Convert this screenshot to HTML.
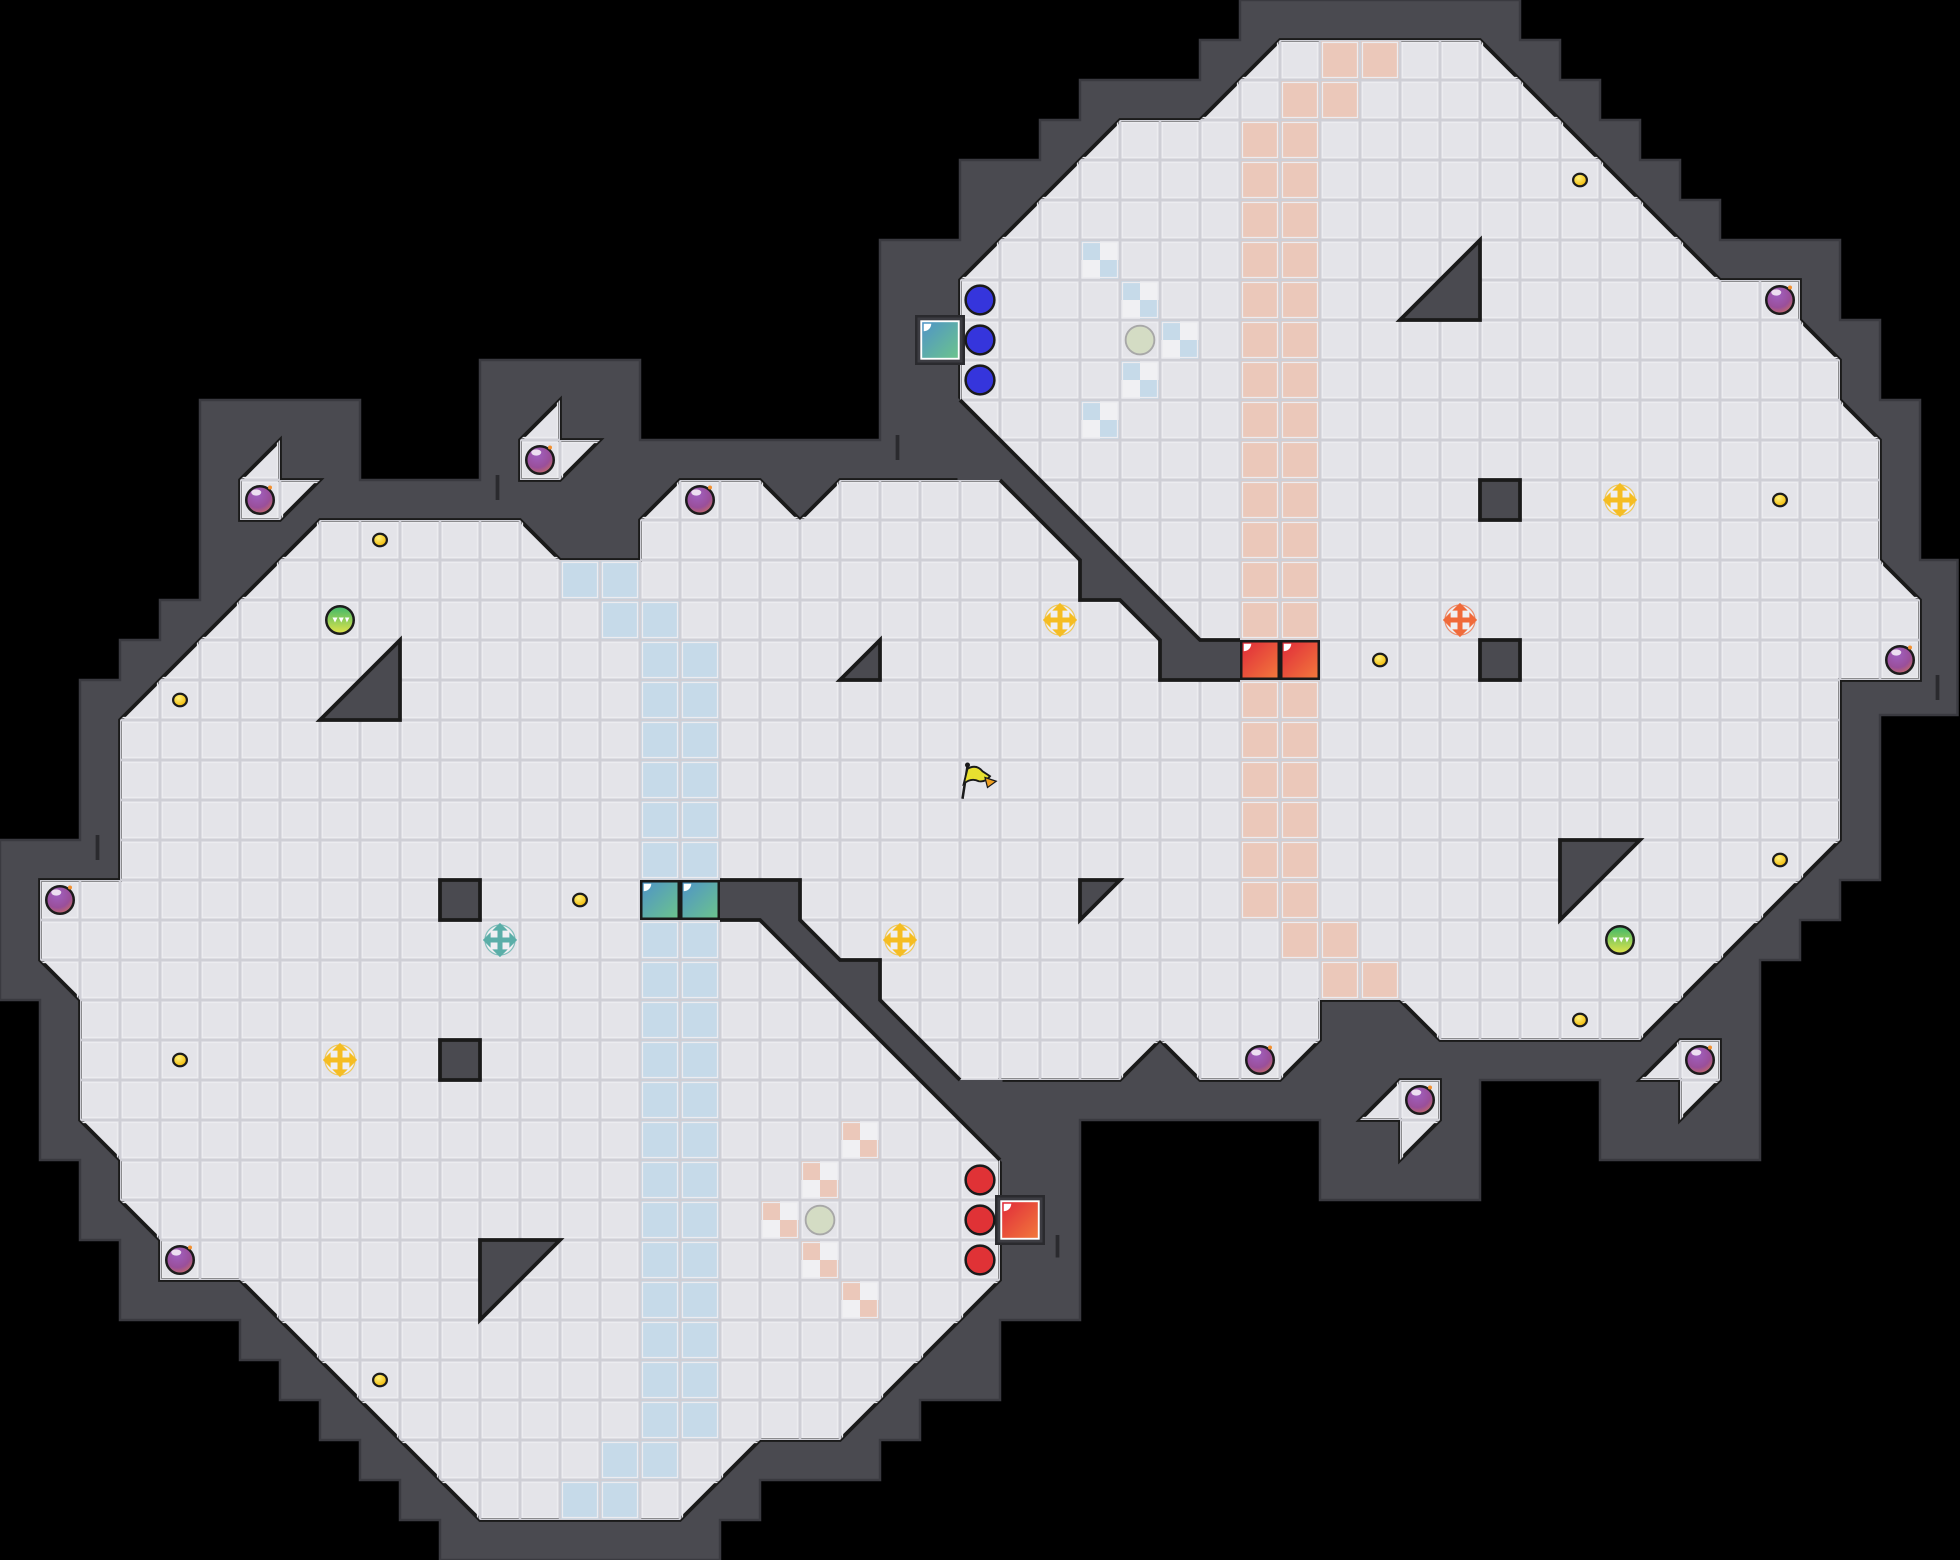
<!DOCTYPE html>
<html><head><meta charset="utf-8"><style>
html,body{margin:0;padding:0;background:#000;}
svg{display:block;}
</style></head><body>
<svg xmlns="http://www.w3.org/2000/svg" width="1960" height="1560" viewBox="0 0 1568 1248">
<defs>
<pattern id="grid" x="0" y="0" width="32" height="32" patternUnits="userSpaceOnUse">
<rect x="0" y="0" width="32" height="32" fill="none"/>
<rect x="0.5" y="0.5" width="31" height="31" fill="none" stroke="#cfcfd6" stroke-width="1.2"/>
<rect x="2" y="2" width="28" height="28" fill="none" stroke="#ececf0" stroke-width="1"/>
</pattern>
<radialGradient id="bomb" cx="0.4" cy="0.3" r="0.8">
<stop offset="0" stop-color="#a060c0"/><stop offset="0.6" stop-color="#9a4f9a"/><stop offset="1" stop-color="#d0705a"/>
</radialGradient>
<linearGradient id="teal" x1="0" y1="0" x2="1" y2="1">
<stop offset="0" stop-color="#4f93c8"/><stop offset="1" stop-color="#6cc48c"/>
</linearGradient>
<linearGradient id="red" x1="0" y1="0" x2="1" y2="1">
<stop offset="0" stop-color="#e02a3a"/><stop offset="1" stop-color="#f27a3c"/>
</linearGradient>
<linearGradient id="green" x1="0" y1="0" x2="0" y2="1">
<stop offset="0" stop-color="#3fb86a"/><stop offset="1" stop-color="#e2e44a"/>
</linearGradient>
<radialGradient id="coin" cx="0.4" cy="0.35" r="0.7">
<stop offset="0" stop-color="#fff27a"/><stop offset="1" stop-color="#f0b400"/>
</radialGradient>
<g id="bombg">
<circle r="11" fill="url(#bomb)" stroke="#1c1c1c" stroke-width="2"/>
<ellipse cx="-3" cy="-6" rx="4" ry="2.5" fill="#fff" opacity="0.8"/>
<circle cx="8" cy="-10" r="1.6" fill="#f29030"/>
</g>
<g id="coing"><ellipse rx="5.5" ry="5" fill="url(#coin)" stroke="#1c1c1c" stroke-width="1.8"/></g>
<g id="orb"><circle r="11" fill="url(#green)" stroke="#1c1c1c" stroke-width="2"/>
<path d="M-6,-2 l2,4 l2,-4 z M-1,-2 l2,4 l2,-4 z M4,-2 l1.5,4 l2,-4 z" fill="#fff"/></g>
<g id="cross">
<circle r="12" fill="#f4f4f6" opacity="0.7"/>
<path d="M-9,0 H9 M0,-9 V9" stroke-width="4" fill="none"/>
<path d="M-13,0 l5,-5 v10 z M13,0 l-5,-5 v10 z M0,-13 l-5,5 h10 z M0,13 l-5,-5 h10 z"/>
</g>
</defs>
<rect width="1568" height="1248" fill="#000"/>
<!-- outer wall -->
<polygon fill="#4a4a50" stroke="#3a3a40" stroke-width="2" points="0,672 64,672 64,544 96,544 96,512 128,512 128,480 160,480 160,320 288,320 288,384 384,384 384,288 512,288 512,352 704,352 704,192 768,192 768,128 832,128 832,96 864,96 864,64 960,64 960,32 992,32 992,0 1216,0 1216,32 1248,32 1248,64 1280,64 1280,96 1312,96 1312,128 1344,128 1344,160 1376,160 1376,192 1472,192 1472,256 1504,256 1504,320 1536,320 1536,448 1566,448 1566,572 1504,572 1504,704 1472,704 1472,736 1440,736 1440,768 1408,768 1408,928 1280,928 1280,864 1184,864 1184,960 1056,960 1056,896 864,896 864,1056 800,1056 800,1120 736,1120 736,1152 704,1152 704,1184 608,1184 608,1216 576,1216 576,1248 352,1248 352,1216 320,1216 320,1184 288,1184 288,1152 256,1152 256,1120 224,1120 224,1088 192,1088 192,1056 96,1056 96,992 64,992 64,928 32,928 32,800 0,800"/>
<!-- wall ticks -->
<g stroke="#2a2a2e" stroke-width="3">
<line x1="78" y1="668" x2="78" y2="688"/><line x1="398" y1="380" x2="398" y2="400"/><line x1="718" y1="348" x2="718" y2="368"/>
<line x1="846" y1="988" x2="846" y2="1006"/><line x1="1550" y1="540" x2="1550" y2="560"/>
</g>
<!-- floor -->
<polygon id="floorp" fill="#e4e4e9" stroke="#1a1a1a" stroke-width="3" stroke-linejoin="miter" points="32,704 96,704 96,576 256,416 416,416 448,448 512,448 512,416 544,384 608,384 640,416 672,384 800,384 768,352 768,224 896,96 960,96 1024,32 1184,32 1376,224 1440,224 1440,256 1472,288 1472,320 1504,352 1504,448 1536,480 1536,544 1472,544 1472,672 1312,832 1152,832 1120,800 1056,800 1056,832 1024,864 960,864 928,832 896,864 800,864 800,1024 672,1152 608,1152 544,1216 384,1216 192,1024 128,1024 128,992 96,960 96,928 64,896 64,800 32,768"/>
<!-- pockets -->
<g fill="#e4e4e9" stroke="#1a1a1a" stroke-width="3">
<polygon points="192,384 224,352 224,384 256,384 224,416 192,416"/>
<polygon points="416,352 448,320 448,352 480,352 448,384 416,384"/>
<polygon points="1088,896 1120,864 1152,864 1152,896 1120,928 1120,896"/>
<polygon points="1312,864 1344,832 1376,832 1376,864 1344,896 1344,864"/>
</g>
<!-- blue tiles -->
<g fill="#c6dae9">
<rect x="448" y="448" width="64" height="32"/><rect x="480" y="480" width="64" height="32"/>
<rect x="512" y="512" width="64" height="192"/><rect x="512" y="736" width="64" height="416"/>
<rect x="480" y="1152" width="64" height="32"/><rect x="448" y="1184" width="64" height="32"/>
</g>
<!-- peach tiles -->
<g fill="#ebc8ba">
<rect x="1056" y="32" width="64" height="32"/><rect x="1024" y="64" width="64" height="32"/>
<rect x="992" y="96" width="64" height="416"/><rect x="992" y="544" width="64" height="192"/>
<rect x="1024" y="736" width="64" height="32"/><rect x="1056" y="768" width="64" height="32"/>
</g>
<!-- checkers -->
<g>
<g fill="#f0f0f3">
<rect x="864" y="192" width="32" height="32"/><rect x="896" y="224" width="32" height="32"/><rect x="928" y="256" width="32" height="32"/><rect x="896" y="288" width="32" height="32"/><rect x="864" y="320" width="32" height="32"/>
<rect x="672" y="896" width="32" height="32"/><rect x="640" y="928" width="32" height="32"/><rect x="608" y="960" width="32" height="32"/><rect x="640" y="992" width="32" height="32"/><rect x="672" y="1024" width="32" height="32"/>
</g>
<g fill="#c6dae9">
<rect x="864" y="192" width="16" height="16"/><rect x="880" y="208" width="16" height="16"/>
<rect x="896" y="224" width="16" height="16"/><rect x="912" y="240" width="16" height="16"/>
<rect x="928" y="256" width="16" height="16"/><rect x="944" y="272" width="16" height="16"/>
<rect x="896" y="288" width="16" height="16"/><rect x="912" y="304" width="16" height="16"/>
<rect x="864" y="320" width="16" height="16"/><rect x="880" y="336" width="16" height="16"/>
</g>
<g fill="#ebc8ba">
<rect x="672" y="896" width="16" height="16"/><rect x="688" y="912" width="16" height="16"/>
<rect x="640" y="928" width="16" height="16"/><rect x="656" y="944" width="16" height="16"/>
<rect x="608" y="960" width="16" height="16"/><rect x="624" y="976" width="16" height="16"/>
<rect x="640" y="992" width="16" height="16"/><rect x="656" y="1008" width="16" height="16"/>
<rect x="672" y="1024" width="16" height="16"/><rect x="688" y="1040" width="16" height="16"/>
</g>
</g>
<!-- grid overlay -->
<g fill="url(#grid)">
<polygon points="32,704 96,704 96,576 256,416 416,416 448,448 512,448 512,416 544,384 608,384 640,416 672,384 800,384 768,352 768,224 896,96 960,96 1024,32 1184,32 1376,224 1440,224 1440,256 1472,288 1472,320 1504,352 1504,448 1536,480 1536,544 1472,544 1472,672 1312,832 1152,832 1120,800 1056,800 1056,832 1024,864 960,864 928,832 896,864 800,864 800,1024 672,1152 608,1152 544,1216 384,1216 192,1024 128,1024 128,992 96,960 96,928 64,896 64,800 32,768"/>
<polygon points="192,384 224,352 224,384 256,384 224,416 192,416"/>
<polygon points="416,352 448,320 448,352 480,352 448,384 416,384"/>
<polygon points="1088,896 1120,864 1152,864 1152,896 1120,928 1120,896"/>
<polygon points="1312,864 1344,832 1376,832 1376,864 1344,896 1344,864"/>
</g>
<!-- interior wall strips -->
<polygon fill="#4a4a50" points="576,704 640,704 640,736 672,768 704,768 704,800 768,864 802,864 802,930 608,736 576,736"/>
<polyline fill="none" stroke="#1a1a1a" stroke-width="3" points="576,704 640,704 640,736 672,768 704,768 704,800 768,864"/>
<polyline fill="none" stroke="#1a1a1a" stroke-width="3" points="800,928 608,736 576,736"/>
<polygon fill="#4a4a50" points="768,320 960,512 992,512 992,544 928,544 928,512 896,480 864,480 864,448 800,384 766,384 766,318"/>
<polyline fill="none" stroke="#1a1a1a" stroke-width="3" points="768,320 960,512 992,512"/>
<polyline fill="none" stroke="#1a1a1a" stroke-width="3" points="992,544 928,544 928,512 896,480 864,480 864,448 800,384"/>
<!-- interior blocks -->
<g fill="#4a4a50" stroke="#1a1a1a" stroke-width="3" stroke-linejoin="miter">
<polygon points="256,576 320,512 320,576"/>
<polygon points="384,992 448,992 384,1056"/>
<polygon points="672,544 704,512 704,544"/>
<polygon points="864,704 896,704 864,736"/>
<polygon points="1120,256 1184,192 1184,256"/>
<polygon points="1248,672 1312,672 1248,736"/>
<rect x="352" y="704" width="32" height="32"/>
<rect x="352" y="832" width="32" height="32"/>
<rect x="1184" y="384" width="32" height="32"/>
<rect x="1184" y="512" width="32" height="32"/>
</g>
<!-- colored blocks -->
<g stroke="#1a1a1a" stroke-width="2">
<rect x="733" y="253" width="38" height="38" fill="#3c3c42" stroke="#2a2a2e"/>
<rect x="797" y="957" width="38" height="38" fill="#3c3c42" stroke="#2a2a2e"/>
<rect x="737" y="257" width="30" height="30" fill="url(#teal)" stroke="#fff" stroke-width="1.5"/>
<rect x="513" y="705" width="30" height="30" fill="url(#teal)"/>
<rect x="545" y="705" width="30" height="30" fill="url(#teal)"/>
<rect x="993" y="513" width="30" height="30" fill="url(#red)"/>
<rect x="1025" y="513" width="30" height="30" fill="url(#red)"/>
<rect x="801" y="961" width="30" height="30" fill="url(#red)" stroke="#fff" stroke-width="1.5"/>
</g>
<g fill="#fff">
<path d="M739,259 h6 a6,6 0 0 1 -6,6 z"/><path d="M515,707 h6 a6,6 0 0 1 -6,6 z"/><path d="M547,707 h6 a6,6 0 0 1 -6,6 z"/>
<path d="M995,515 h6 a6,6 0 0 1 -6,6 z"/><path d="M1027,515 h6 a6,6 0 0 1 -6,6 z"/><path d="M803,963 h6 a6,6 0 0 1 -6,6 z"/>
</g>
<!-- blue/red dots -->
<g stroke="#1a1a1a" stroke-width="2">
<circle cx="784" cy="240" r="11.5" fill="#3535dc"/><circle cx="784" cy="272" r="11.5" fill="#3535dc"/><circle cx="784" cy="304" r="11.5" fill="#3535dc"/>
<circle cx="784" cy="944" r="11.5" fill="#e03236"/><circle cx="784" cy="976" r="11.5" fill="#e03236"/><circle cx="784" cy="1008" r="11.5" fill="#e03236"/>
</g>
<g fill="#d4dcc4" stroke="#a8a8a8" stroke-width="1.5">
<circle cx="912" cy="272" r="11.5"/><circle cx="656" cy="976" r="11.5"/>
</g>
<!-- bombs -->
<use href="#bombg" x="48" y="720"/><use href="#bombg" x="208" y="400"/><use href="#bombg" x="432" y="368"/>
<use href="#bombg" x="560" y="400"/><use href="#bombg" x="144" y="1008"/><use href="#bombg" x="1008" y="848"/>
<use href="#bombg" x="1136" y="880"/><use href="#bombg" x="1360" y="848"/><use href="#bombg" x="1424" y="240"/>
<use href="#bombg" x="1520" y="528"/>
<!-- coins -->
<use href="#coing" x="304" y="432"/><use href="#coing" x="144" y="560"/><use href="#coing" x="464" y="720"/>
<use href="#coing" x="144" y="848"/><use href="#coing" x="304" y="1104"/><use href="#coing" x="1264" y="144"/>
<use href="#coing" x="1424" y="400"/><use href="#coing" x="1104" y="528"/><use href="#coing" x="1424" y="688"/>
<use href="#coing" x="1264" y="816"/>
<!-- orbs -->
<use href="#orb" x="272" y="496"/><use href="#orb" x="1296" y="752"/>
<!-- crosses -->
<g fill="#f5bd22" stroke="#f5bd22"><use href="#cross" x="848" y="496"/><use href="#cross" x="720" y="752"/><use href="#cross" x="272" y="848"/><use href="#cross" x="1296" y="400"/></g>
<g fill="#f06a3a" stroke="#f06a3a"><use href="#cross" x="1168" y="496"/></g>
<g fill="#5aaea8" stroke="#5aaea8"><use href="#cross" x="400" y="752"/></g>
<!-- flag -->
<line x1="770" y1="639" x2="774" y2="613" stroke="#1a1a1a" stroke-width="2"/>
<circle cx="774" cy="612" r="2" fill="#1a1a1a"/>
<path d="M774,615 Q781,611 786,617 L792,621 Q788,626 783,625 Q777,622 771,627 Z" fill="#e8e030" stroke="#1a1a1a" stroke-width="1.5"/>
<path d="M788,622 L797,625 L790,630 Z" fill="#f0a020" stroke="#1a1a1a" stroke-width="1"/>
</svg>
</body></html>
